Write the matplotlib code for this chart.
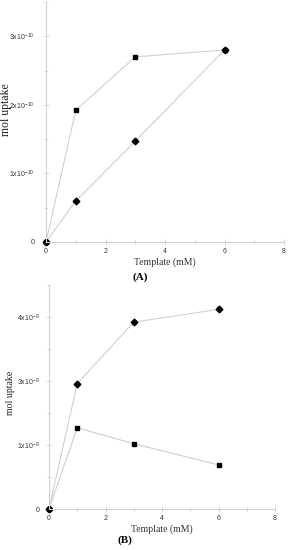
import numpy as np
import matplotlib
matplotlib.use("Agg")
import matplotlib.pyplot as plt
from matplotlib.ticker import FixedLocator, FixedFormatter, MultipleLocator

plt.rcParams['mathtext.default'] = 'regular'
plt.rcParams['axes.unicode_minus'] = False

# panel A (mol uptake, 1e-10 units)
x_a = [0, 1, 3, 6]
sq_a = [0, 1.92, 2.70, 2.80]
dia_a = [0, 0.60, 1.47, 2.80]
yt_a = [0, 1, 2, 3]
yl_a = ['0', '1x10$^{-10}$', '2x10$^{-10}$', '3x10$^{-10}$']

# panel B (axis units, labels as printed)
x_b = [0, 1, 3, 6]
sq_b = [0, 1.27, 1.02, 0.69]
dia_b = [0, 1.96, 2.92, 3.12]
yt_b = [0, 1, 2, 3]
yl_b = ['0', '1x10$^{-9}$', '3x10$^{-9}$', '4x10$^{-9}$']

xt = [0, 2, 4, 6, 8]

W, H = 288, 550
fig = plt.figure(figsize=(W / 100, H / 100), dpi=100)

axA = fig.add_axes([46 / W, 1 - 242 / H, (284 - 46) / W, (242 - 2) / H])
axB = fig.add_axes([49 / W, 1 - 509 / H, (275 - 49) / W, (509 - 285) / H])

gray = '#d0d0d0'
serif = 'Liberation Serif'
sans = 'Liberation Sans'

def style(ax, yt, yl, ylab_x, ylab_y, ylab_size, ypad):
    ax.set_xlim(0, 8)
    ax.set_ylim(0, 3.5)
    for s in ['top', 'right']:
        ax.spines[s].set_visible(False)
    for s in ['left', 'bottom']:
        ax.spines[s].set_color(gray)
        ax.spines[s].set_linewidth(0.8)
    ax.xaxis.set_major_locator(FixedLocator(xt))
    ax.xaxis.set_minor_locator(MultipleLocator(1))
    ax.yaxis.set_major_locator(FixedLocator(yt))
    ax.yaxis.set_major_formatter(FixedFormatter(yl))
    ax.yaxis.set_minor_locator(MultipleLocator(0.5))
    ax.tick_params(which='both', direction='inout', color=gray, width=0.6,
                   labelsize=5, labelcolor='#333333')
    ax.tick_params(axis='y', pad=ypad)
    ax.tick_params(axis='x', pad=2)
    ax.tick_params(which='major', length=4)
    ax.tick_params(which='minor', length=3)
    for t in ax.get_xticklabels() + ax.get_yticklabels():
        t.set_fontfamily(sans)
    ax.set_xlabel('Template (mM)', fontfamily=serif, fontsize=7, color='#333333', labelpad=2)
    ax.set_ylabel('mol uptake', fontfamily=serif, fontsize=ylab_size, color='#222222')
    x0 = ax.get_position().x0 * W
    w = ax.get_position().width * W
    y1 = (1 - ax.get_position().y1) * H
    h = ax.get_position().height * H
    ax.yaxis.set_label_coords((ylab_x - x0) / w, 1 - (ylab_y - y1) / h)

axA.plot(x_a, sq_a, color=gray, lw=0.8, marker='s', ms=3.2, mfc='black', mec='black', clip_on=False)
axA.plot(x_a, dia_a, color=gray, lw=0.8, marker='D', ms=3.4, mfc='black', mec='black', clip_on=False)
axA.plot([0], [0], 'o', color='black', ms=3.6, clip_on=False)
style(axA, yt_a, yl_a, 12, 110, 8.5, 6)

axB.plot(x_b, sq_b, color=gray, lw=0.8, marker='s', ms=3.2, mfc='black', mec='black', clip_on=False)
axB.plot(x_b, dia_b, color=gray, lw=0.8, marker='D', ms=3.4, mfc='black', mec='black', clip_on=False)
axB.plot([0], [0], 'o', color='black', ms=3.6, clip_on=False)
style(axB, yt_b, yl_b, 15, 393, 7, 5)

fig.text(140 / W, 1 - 277 / H, '(A)', ha='center', va='center',
         fontfamily=serif, fontsize=8, fontweight='bold')
fig.text(125 / W, 1 - 540 / H, '(B)', ha='center', va='center',
         fontfamily=serif, fontsize=8, fontweight='bold')

fig.savefig('out.png', dpi=100)
